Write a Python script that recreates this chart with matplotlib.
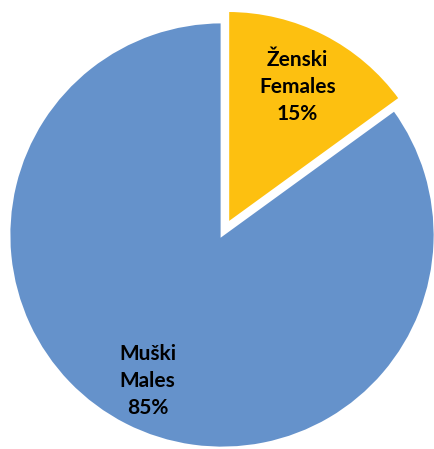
import matplotlib
matplotlib.use("Agg")
from matplotlib import pyplot as plt
import numpy as np

# spol ispitanika / respondents by sex
labels_hr = ["Ženski", "Muški"]
labels_en = ["Females", "Males"]
shares = [15, 85]
colors = ["#FDC010", "#6592CB"]
explode = [0.06, 0]
label_dist = [0.72, 0.77]

plt.rcParams['font.family'] = ['Lato', 'DejaVu Sans']

fig = plt.figure(figsize=(4.34, 4.49), dpi=100)
ax = fig.add_axes([0, 0, 1, 1])

def pct_label(pct):
    i = 0 if abs(pct - shares[0]) < 0.5 else 1
    return "%s\n%s\n%d%%" % (labels_hr[i], labels_en[i], round(pct))

wedges, texts, autotexts = ax.pie(shares, colors=colors, explode=explode,
                                  startangle=90, counterclock=False,
                                  autopct=pct_label, pctdistance=0.73,
                                  wedgeprops=dict(edgecolor="white", linewidth=2),
                                  textprops=dict(fontsize=15, fontweight="bold",
                                                 color="black", linespacing=1.45))
# put each label at its own distance along the wedge bisector
for w, t, d in zip(wedges, autotexts, label_dist):
    ang = np.deg2rad((w.theta1 + w.theta2) / 2)
    cx0, cy0 = w.center
    t.set_position((cx0 + d * np.cos(ang), cy0 + d * np.sin(ang)))
    t.set_horizontalalignment("center")

# pie centre at pixel (222, 235), radius ~213 px
r = 213.0
cx, cy = 222.0, 235.0
ax.set_xlim(-cx / r, (434 - cx) / r)
ax.set_ylim(-(449 - cy) / r, cy / r)
ax.set_aspect("equal")
ax.axis("off")

fig.savefig("out.png", dpi=100)
